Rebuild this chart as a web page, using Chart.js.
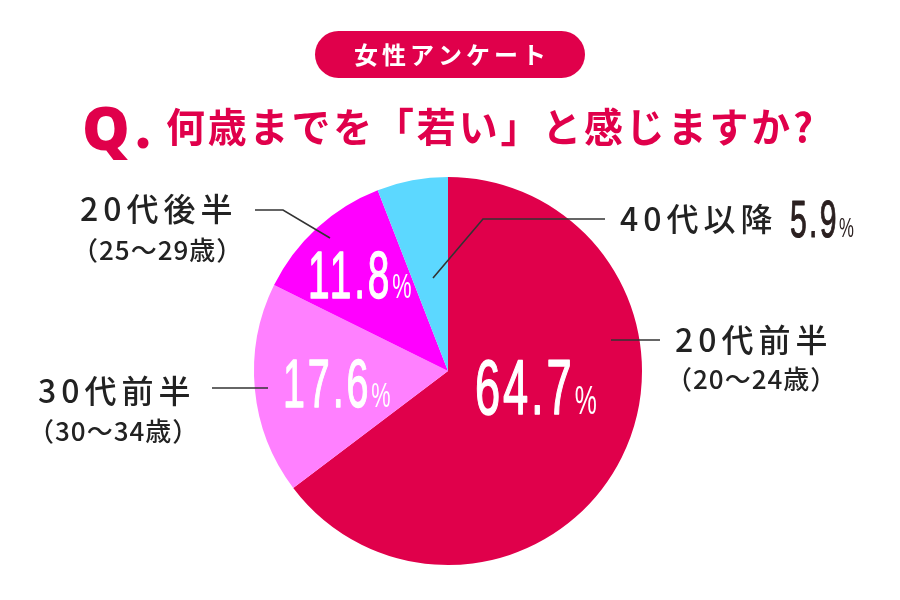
<!DOCTYPE html>
<html>
<head>
<meta charset="utf-8">
<script src="https://cdn.jsdelivr.net/npm/chart.js@4.4.0/dist/chart.umd.min.js"></script>
<style>
  html, body { margin: 0; padding: 0; background: #fff; }
  canvas { display: block; }
</style>
</head>
<body>
<canvas id="chart" width="900" height="600"></canvas>
<script>
// data, clockwise from 12 o'clock
var AGE_GROUPS = ['20代前半', '30代前半', '20代後半', '40代以降'];
var AGE_RANGES = ['（20～24歳）', '（30～34歳）', '（25～29歳）', ''];
var PERCENTS = [64.7, 17.6, 11.8, 5.9];
var SLICE_COLORS = ['#e0004b', '#ff80ff', '#ff00ff', '#5cd8ff'];

var BADGE_TEXT = '女性アンケート';
var QUESTION = '何歳までを「若い」と感じますか?';

var RED = '#e0004b';
var JP = '"Noto Sans CJK JP", "Noto Sans", sans-serif';

// where each percentage goes (offset from pie centre) and how big
var PCT_STYLE = [
    { dx: 27, dy: 43, size: 78, pct: 40, color: '#fff' },
    { dx: -165, dy: 36, size: 68, pct: 35, color: '#fff' },
    { dx: -140, dy: -73, size: 67, pct: 35, color: '#fff' },
    { abs: true, x: 790, y: 237, size: 52, pct: 27, color: '#2b2020' }
];

// outside labels: name position, range position, leader line points
var LABEL_STYLE = [
    { x: 675, y: 340, rx: 666, ry: 379, line: [[611, 340], [660, 340]] },
    { x: 38, y: 391, rx: 28, ry: 431, line: [[268, 388], [212, 388]] },
    { x: 80, y: 209, rx: 72, ry: 250, line: [[330, 238], [283, 210], [255, 210]] },
    { x: 620, y: 219, rx: 0, ry: 0, line: [[433, 278], [483, 219], [605, 219]] }
];

// narrow text: squeezed horizontally, thickened with a stroke
function drawCondensed(ctx, text, x, y, size, sx, thick) {
    ctx.save();
    ctx.translate(x, y);
    ctx.scale(sx, 1);
    ctx.font = size + 'px "Liberation Sans", Arial, sans-serif';
    ctx.letterSpacing = Math.round(size * 0.07) + 'px';
    ctx.textAlign = 'left';
    ctx.textBaseline = 'alphabetic';
    ctx.fillText(text, 0, 0);
    if (thick) {
        ctx.strokeStyle = ctx.fillStyle;
        ctx.lineWidth = thick;
        ctx.lineJoin = 'round';
        ctx.strokeText(text, 0, 0);
    }
    var w = ctx.measureText(text).width * sx;
    ctx.restore();
    return w;
}

var decorPlugin = {
    id: 'decor',
    beforeDraw: function (chart) {
        var ctx = chart.ctx;
        ctx.save();
        // badge
        ctx.fillStyle = RED;
        ctx.beginPath();
        ctx.roundRect(315, 31, 270, 47, 23.5);
        ctx.fill();
        ctx.fillStyle = '#fff';
        ctx.font = 'bold 24px ' + JP;
        ctx.letterSpacing = '4px';
        ctx.textAlign = 'center';
        ctx.textBaseline = 'middle';
        ctx.fillText(BADGE_TEXT, 452, 55);
        ctx.letterSpacing = '0px';

        // question
        ctx.fillStyle = RED;
        ctx.textAlign = 'left';
        ctx.textBaseline = 'alphabetic';
        ctx.font = '900 60px "Noto Sans", "DejaVu Sans", sans-serif';
        ctx.fillText('Q', 82, 150);
        ctx.beginPath();
        ctx.arc(143, 143, 5.5, 0, Math.PI * 2);
        ctx.fill();
        ctx.font = 'bold 40px ' + JP;
        ctx.letterSpacing = '3px';
        ctx.textBaseline = 'middle';
        ctx.fillText(QUESTION, 166, 127, 650);
        ctx.letterSpacing = '0px';
        ctx.restore();
    },
    afterDatasetsDraw: function (chart) {
        var ctx = chart.ctx;
        var arc0 = chart.getDatasetMeta(0).data[0];
        var cx = arc0.x, cy = arc0.y;
        ctx.save();

        // leader lines + outside labels
        LABEL_STYLE.forEach(function (s, i) {
            ctx.strokeStyle = '#333';
            ctx.lineWidth = 1.6;
            ctx.beginPath();
            s.line.forEach(function (p, j) {
                if (j === 0) ctx.moveTo(p[0], p[1]); else ctx.lineTo(p[0], p[1]);
            });
            ctx.stroke();

            ctx.fillStyle = '#222';
            ctx.textAlign = 'left';
            ctx.textBaseline = 'middle';
            ctx.font = '500 32px ' + JP;
            ctx.letterSpacing = '5px';
            ctx.fillText(AGE_GROUPS[i], s.x, s.y);
            if (AGE_RANGES[i]) {
                ctx.font = '500 26px ' + JP;
                ctx.letterSpacing = '1px';
                ctx.fillText(AGE_RANGES[i], s.rx, s.ry);
            }
            ctx.letterSpacing = '0px';
        });

        // percentages
        PERCENTS.forEach(function (v, i) {
            var s = PCT_STYLE[i];
            var x = s.abs ? s.x : cx + s.dx;
            var y = s.abs ? s.y : cy + s.dy;
            ctx.fillStyle = s.color;
            var w = drawCondensed(ctx, v.toFixed(1), x, y, s.size, 0.58, s.size * 0.02);
            drawCondensed(ctx, '%', x + w, y, s.pct, 0.62, 0);
        });
        ctx.restore();
    }
};

new Chart(document.getElementById('chart'), {
    type: 'pie',
    data: {
        labels: AGE_GROUPS,
        datasets: [{
            data: PERCENTS,
            backgroundColor: SLICE_COLORS,
            borderWidth: 0,
            hoverOffset: 0
        }]
    },
    options: {
        responsive: false,
        animation: false,
        layout: { padding: { top: 177, bottom: 35, left: 254, right: 258 } },
        plugins: {
            legend: { display: false },
            tooltip: { enabled: false }
        }
    },
    plugins: [decorPlugin]
});
</script>
</body>
</html>
